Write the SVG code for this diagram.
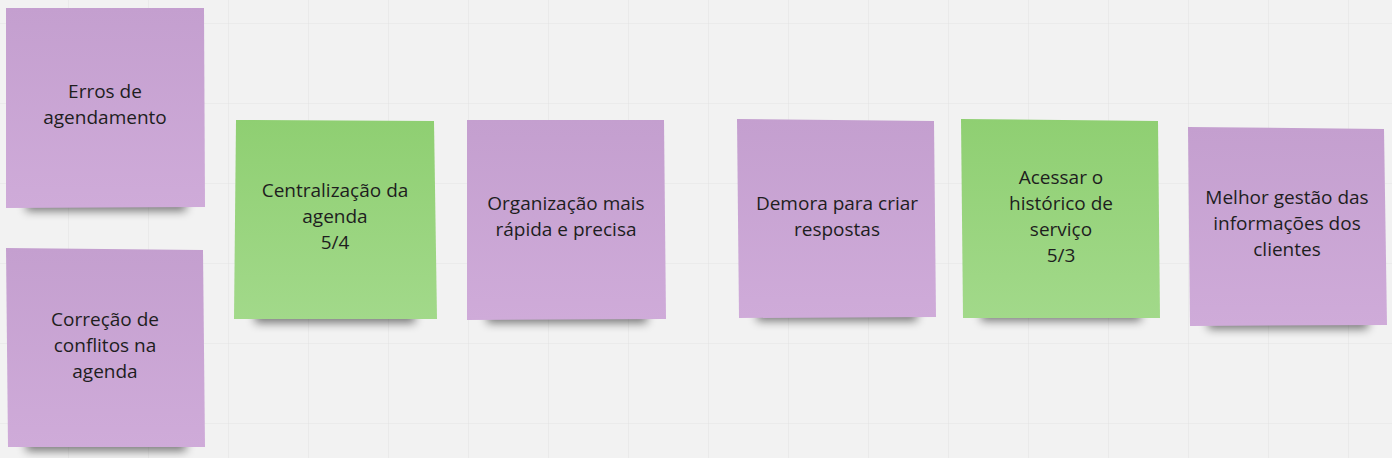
<svg xmlns="http://www.w3.org/2000/svg" width="1392" height="458" viewBox="0 0 1392 458">
<defs>
<pattern id="grid" x="68" y="23" width="80" height="80" patternUnits="userSpaceOnUse">
<path d="M0 0H80M0 0V80" fill="none" stroke="#e4e4e4" stroke-width="1.2"/>
</pattern>
<linearGradient id="gp" x1="0" y1="0" x2="0" y2="1">
<stop offset="0" stop-color="#c49fcf"/>
<stop offset="1" stop-color="#cfabd9"/>
</linearGradient>
<linearGradient id="gg" x1="0" y1="0" x2="0" y2="1">
<stop offset="0" stop-color="#8fcf72"/>
<stop offset="1" stop-color="#a2d98a"/>
</linearGradient>
<filter id="sh" x="-20%" y="-100%" width="140%" height="300%">
<feGaussianBlur stdDeviation="5"/>
</filter>
</defs>
<style>
.t{font-family:"Open Sans","Noto Sans","Liberation Sans",sans-serif;font-size:19px;fill:#1e1e1e;text-anchor:middle}
.s{fill:#000;opacity:0.5;filter:url(#sh)}
.p{fill:url(#gp)}
.g{fill:url(#gg)}
</style>
<rect width="1392" height="458" fill="#f2f2f2"/>
<rect width="1392" height="458" fill="url(#grid)"/>
<g id="connectors"/>
<g id="n1">
<rect class="s" x="26" y="196" width="160" height="15"/>
<polygon class="p" points="6,8 204,8 205,207 6,208"/>
<text class="t"><tspan x="105" y="98">Erros de</tspan><tspan x="105" y="124">agendamento</tspan></text>
</g>
<g id="n2">
<rect class="s" x="26" y="436" width="160" height="15"/>
<polygon class="p" points="6,248 203,250 205,447 8,447"/>
<text class="t"><tspan x="105" y="326">Correção de</tspan><tspan x="105" y="352">conflitos na</tspan><tspan x="105" y="378">agenda</tspan></text>
</g>
<g id="n3">
<rect class="s" x="255" y="308" width="160" height="15"/>
<polygon class="g" points="236,120 434,121 437,319 234,319"/>
<text class="t"><tspan x="335" y="197">Centralização da</tspan><tspan x="335" y="223">agenda</tspan><tspan x="335" y="249">5/4</tspan></text>
</g>
<g id="n4">
<rect class="s" x="487" y="308" width="160" height="15"/>
<polygon class="p" points="467,120 664,120 666,319 467,320"/>
<text class="t"><tspan x="566" y="210">Organização mais</tspan><tspan x="566" y="236">rápida e precisa</tspan></text>
</g>
<g id="n5">
<rect class="s" x="757" y="306" width="160" height="15"/>
<polygon class="p" points="737,119 934,121 936,317 739,318"/>
<text class="t"><tspan x="837" y="210">Demora para criar</tspan><tspan x="837" y="236">respostas</tspan></text>
</g>
<g id="n6">
<rect class="s" x="981" y="306" width="160" height="15"/>
<polygon class="g" points="961,119 1158,121 1160,318 963,318"/>
<text class="t"><tspan x="1061" y="184">Acessar o</tspan><tspan x="1061" y="210">histórico de</tspan><tspan x="1061" y="236">serviço</tspan><tspan x="1061" y="262">5/3</tspan></text>
</g>
<g id="n7">
<rect class="s" x="1208" y="314" width="160" height="15"/>
<polygon class="p" points="1188,127 1384,129 1387,325 1190,326"/>
<text class="t"><tspan x="1287" y="204">Melhor gestão das</tspan><tspan x="1287" y="230">informações dos</tspan><tspan x="1287" y="256">clientes</tspan></text>
</g>
</svg>
